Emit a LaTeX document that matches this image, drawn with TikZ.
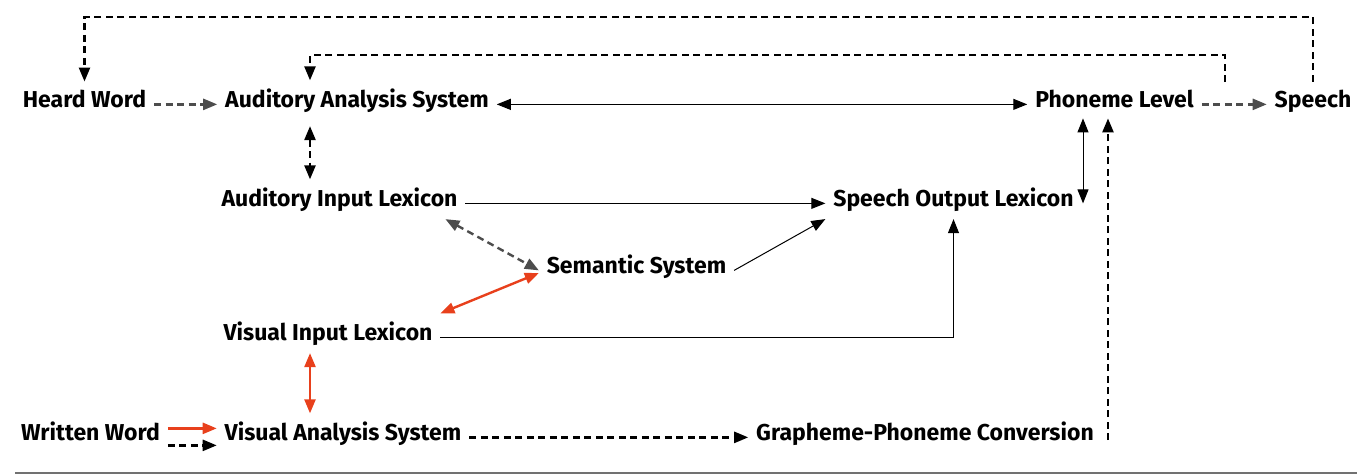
\documentclass[tikz,border=0pt]{standalone}
\usepackage{fontspec}
\setmainfont{Fira Sans}
\usetikzlibrary{arrows.meta,calc}
\definecolor{myred}{HTML}{E8401C}
\definecolor{mygray}{HTML}{4D4D4D}
\begin{document}
\begin{tikzpicture}[x=1pt,y=-1pt,
  lbl/.style={inner sep=0pt, outer sep=8pt, anchor=base, font=\fontsize{23}{26}\selectfont\bfseries},
  tip/.style={-{Triangle[length=14pt,width=11pt]}},
  btip/.style={{Triangle[length=14pt,width=11pt]}-{Triangle[length=14pt,width=11pt]}},
  thin line/.style={line width=1pt, black},
  dash line/.style={line width=2.4pt, black, dash pattern=on 7pt off 4.5pt},
  gdash line/.style={line width=2.4pt, mygray, dash pattern=on 7pt off 4.5pt},
  red line/.style={line width=2.4pt, myred},
]
\useasboundingbox (0,0) rectangle (1357,475);
% nodes
\node[lbl] (hw)  at (84.5,107) {Heard Word};
\node[lbl] (aas) at (357,107) {Auditory Analysis System};
\node[lbl] (pl)  at (1114.5,107) {Phoneme Level};
\node[lbl] (sp)  at (1313,107) {Speech};
\node[lbl] (ail) at (339.5,206) {Auditory Input Lexicon};
\node[lbl] (sol) at (953.5,206) {Speech Output Lexicon};
\node[lbl] (sem) at (636.5,273) {Semantic System};
\node[lbl] (vil) at (328,340) {Visual Input Lexicon};
\node[lbl] (ww)  at (90.5,440) {Written Word};
\node[lbl] (vas) at (343,440) {Visual Analysis System};
\node[lbl] (gpc) at (925,440) {Grapheme-Phoneme Conversion};
% helper coordinates
\coordinate (colx) at (310,0);
\coordinate (top1) at (0,17);
\coordinate (top2) at (0,55);
\coordinate (plout) at (1225,82);
\coordinate (c1083) at (1083,0);
\coordinate (c1108) at (1108,0);
% connectors
\draw[gdash line, tip] (hw.mid east) -- (aas.mid west);
\draw[thin line, btip] (aas.mid east) -- (pl.mid west);
\draw[gdash line, tip] (pl.mid east) -- (sp.mid west);
\draw[dash line, tip] (sp.north) -- (sp.north |- top1) -| (hw.north);
\draw[dash line, tip] (plout) -- (plout |- top2) -| (aas.north -| colx);
\draw[dash line, btip, shorten <=6pt] (aas.south -| colx) -- (ail.north -| colx);
\draw[thin line, tip] (ail.mid east) -- (sol.mid west);
\draw[gdash line, btip] ($(ail.south east)+(-20,0)$) -- (sem.mid west);
\draw[thin line, tip] (sem.mid east) -- (sol.south west);
\draw[red line, btip] (vil.north east) -- (sem.base west);
\draw[thin line, tip] (vil.mid east) -| (sol.south);
\draw[thin line, btip, shorten <=3pt] (pl.south -| c1083) -- (sol.mid east -| c1083);
\draw[dash line, tip, shorten >=3pt] (gpc.base east -| c1108) -- (pl.south -| c1108);
\draw[red line, btip] (vil.south -| colx) -- (vas.north -| colx);
\draw[red line, tip] ($(ww.mid east)+(0,-9)$) -- ($(vas.mid west)+(0,-9)$);
\draw[dash line, tip] ($(ww.mid east)+(0,8)$) -- ($(vas.mid west)+(0,8)$);
\draw[dash line, tip] (vas.mid east) -- (gpc.mid west);
% bottom rule
\draw[line width=2.2pt, mygray!80] (15,473) -- (1357,473);
\end{tikzpicture}
\end{document}
